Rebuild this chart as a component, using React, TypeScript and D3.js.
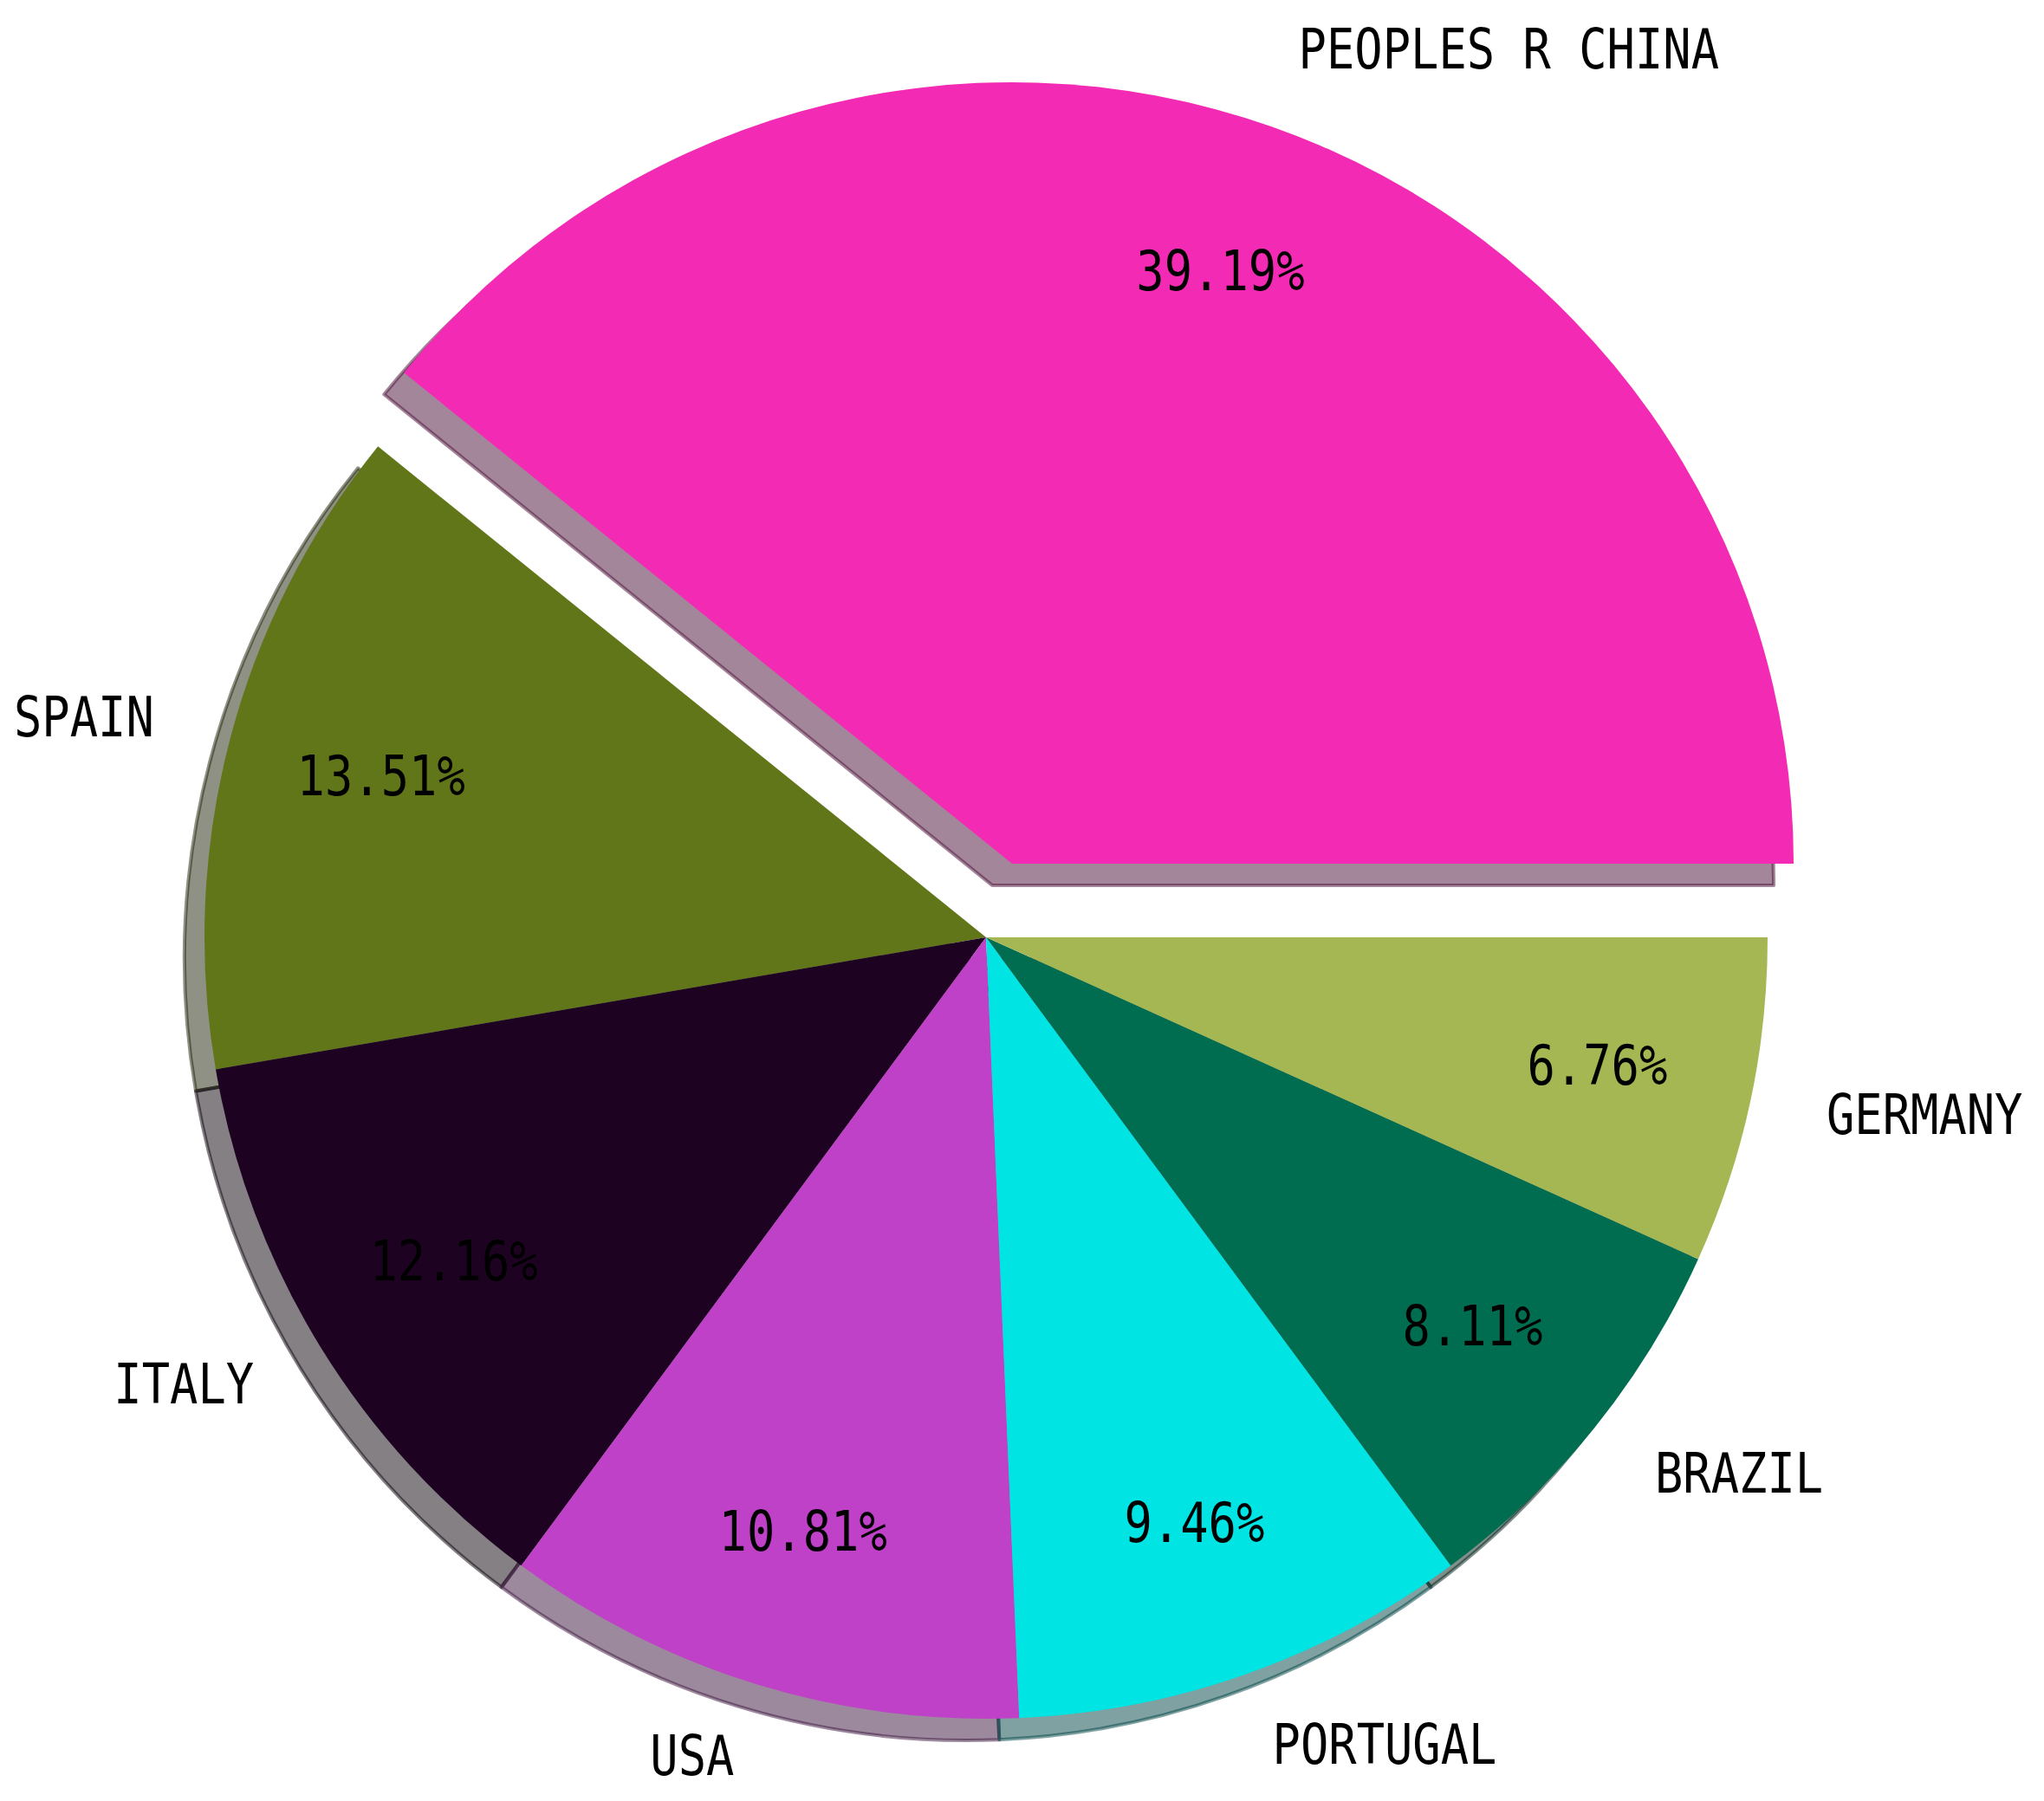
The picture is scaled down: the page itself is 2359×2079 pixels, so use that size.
import React from "react";
import * as d3 from "d3";

const categories = ["PEOPLES R CHINA", "SPAIN", "ITALY", "USA", "PORTUGAL", "BRAZIL", "GERMANY"];
const counts = [29, 10, 9, 8, 7, 6, 5];
const sliceColors = ["#F32BB4", "#617519", "#1D0321", "#BF41C7", "#00E4E4", "#006C50", "#A4B752"];
const explodeFactors = [0.1, 0, 0, 0, 0, 0, 0];

const W = 2359;
const H = 2079;
const CX = 1138;
const CY = 1082;
const R = 902;
const SHADOW_DX = -23;
const SHADOW_DY = 25;
const FONT = "'DejaVu Sans Mono', monospace";
const FONT_SIZE = 64;
const SCALE_X = 0.84;

export default function App() {
  const total = d3.sum(counts);
  const pie = d3
    .pie<number>()
    .sort(null)
    .value((d) => d)
    .startAngle(Math.PI / 2)
    .endAngle(Math.PI / 2 - 2 * Math.PI);
  const arcs = pie(counts);
  const arcGen = d3.arc<d3.PieArcDatum<number>>().innerRadius(0).outerRadius(R);

  const items = arcs.map((a, i) => {
    const mid = (a.startAngle + a.endAngle) / 2;
    const ux = Math.sin(mid);
    const uy = -Math.cos(mid);
    const ox = CX + explodeFactors[i] * R * ux;
    const oy = CY + explodeFactors[i] * R * uy;
    const path = arcGen(a) as string;
    const c = d3.rgb(sliceColors[i]);
    const shadowColor = d3.rgb(c.r * 0.3, c.g * 0.3, c.b * 0.3).formatHex();
    const lx = ox + 1.1 * R * ux;
    const ly = oy + 1.1 * R * uy;
    const px = ox + 0.8 * R * ux;
    const py = oy + 0.8 * R * uy;
    const pct = ((counts[i] / total) * 100).toFixed(2) + "%";
    return { i, path, ox, oy, shadowColor, lx, ly, px, py, pct, right: ux >= 0 };
  });

  return (
    <svg
      width={W}
      height={H}
      style={{ position: "absolute", left: 0, top: 0, background: "#ffffff" }}
      xmlns="http://www.w3.org/2000/svg"
    >
      <rect x={0} y={0} width={W} height={H} fill="#ffffff" />
      <g>
        {items.map((d) => (
          <path
            key={"s" + d.i}
            d={d.path}
            transform={`translate(${d.ox + SHADOW_DX},${d.oy + SHADOW_DY})`}
            fill={d.shadowColor}
            fillOpacity={0.5}
            stroke={d.shadowColor}
            strokeOpacity={0.5}
            strokeWidth={4}
            strokeLinejoin="round"
          />
        ))}
      </g>
      <g>
        {items.map((d) => (
          <path
            key={"w" + d.i}
            d={d.path}
            transform={`translate(${d.ox},${d.oy})`}
            fill={sliceColors[d.i]}
          />
        ))}
      </g>
      <g fontFamily={FONT} fontSize={FONT_SIZE} fill="#000000">
        {items.map((d) => (
          <text
            key={"l" + d.i}
            transform={`translate(${d.lx},${d.ly + 18}) scale(${SCALE_X},1)`}
            textAnchor={d.right ? "start" : "end"}
          >
            {categories[d.i]}
          </text>
        ))}
        {items.map((d) => (
          <text
            key={"p" + d.i}
            transform={`translate(${d.px},${d.py + 18}) scale(${SCALE_X},1)`}
            textAnchor="middle"
          >
            {d.pct}
          </text>
        ))}
      </g>
    </svg>
  );
}
